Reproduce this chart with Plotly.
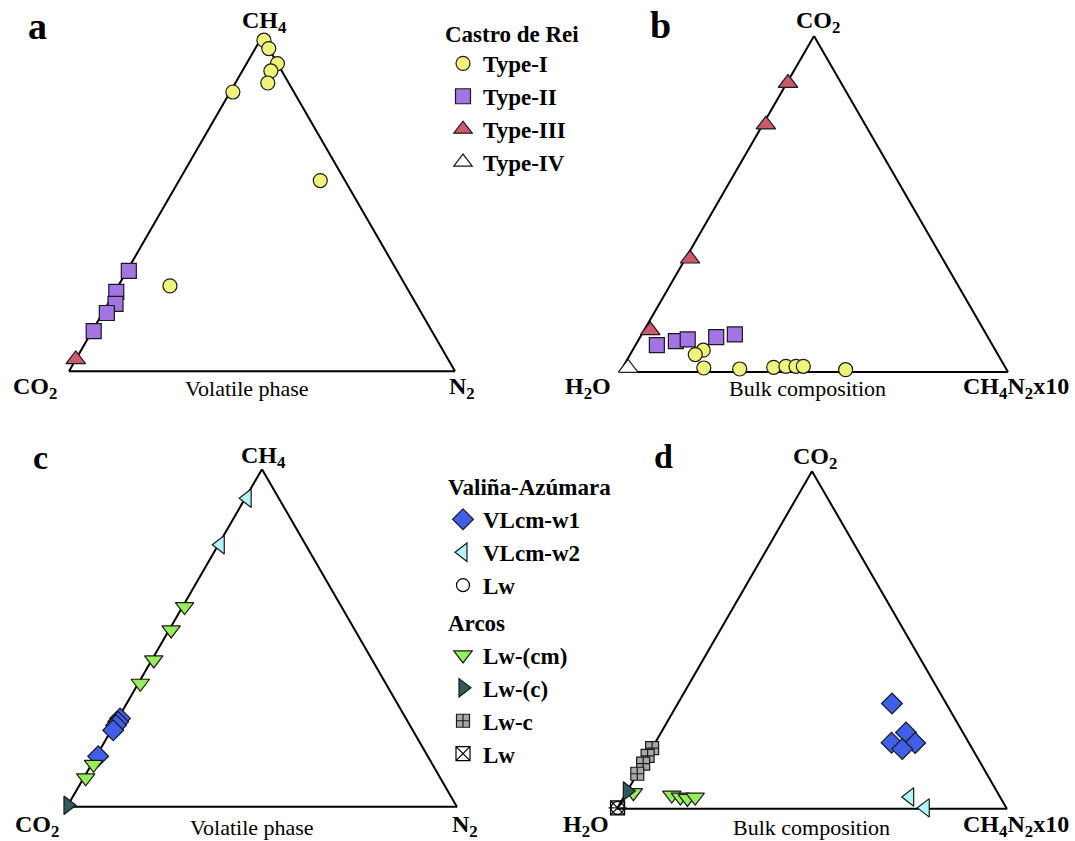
import math
import plotly.graph_objects as go

FONT = "Liberation Serif"
W, H = 1075, 841

# ---------------- Data (percent) ----------------
# Panel a: volatile phase, Castro de Rei  (a = CH4, b = CO2, c = N2)
A_T1_CH4 = [99.0, 96.5, 92.0, 89.8, 86.2, 83.5, 57.0, 25.5]
A_T1_CO2 = [0.0, 0.0, 0.0, 2.8, 5.4, 15.8, 6.4, 61.1]
A_T1_N2 = [1.0, 3.5, 8.0, 7.4, 8.4, 0.7, 36.6, 13.4]

A_T2_CH4 = [30.0, 23.7, 20.1, 17.4, 12.0]
A_T2_CO2 = [69.5, 75.9, 77.9, 81.5, 87.6]
A_T2_N2 = [0.5, 0.4, 2.0, 1.1, 0.4]

A_T3_CH4 = [3.5]
A_T3_CO2 = [96.5]
A_T3_N2 = [0.0]

# Panel b: bulk composition, Castro de Rei (a = CO2, b = H2O, c = CH4N2x10)
B_T1_CO2 = [6.5, 5.2, 1.2, 0.9, 1.4, 1.7, 1.7, 1.7, 0.7]
B_T1_H2O = [75.3, 78.0, 77.8, 68.7, 59.7, 56.4, 53.8, 51.9, 41.5]
B_T1_CHN = [18.2, 16.8, 21.0, 30.4, 38.9, 41.9, 44.5, 46.4, 57.8]

B_T2_CO2 = [8.0, 9.2, 9.7, 10.4, 11.2]
B_T2_H2O = [86.5, 81.0, 77.7, 70.0, 64.8]
B_T2_CHN = [5.5, 9.8, 12.6, 19.6, 24.0]

B_T3_CO2 = [86.0, 73.6, 33.7, 12.4]
B_T3_H2O = [13.7, 25.6, 65.1, 86.0]
B_T3_CHN = [0.3, 0.8, 1.2, 1.6]

B_T4_CO2 = [1.2]
B_T4_H2O = [97.3]
B_T4_CHN = [1.5]

# Panel c: volatile phase, Valiña-Azúmara & Arcos (a = CH4, b = CO2, c = N2)
C_W1_CH4 = [26.2, 25.2, 24.2, 22.7, 15.0]
C_W1_CO2 = [73.3, 74.3, 75.3, 76.8, 84.5]
C_W1_N2 = [0.5, 0.5, 0.5, 0.5, 0.5]

C_W2_CH4 = [91.4, 77.6]
C_W2_CO2 = [8.1, 21.9]
C_W2_N2 = [0.5, 0.5]

C_CM_CH4 = [59.3, 52.4, 43.5, 36.6, 12.6, 8.6]
C_CM_CO2 = [40.2, 47.1, 56.0, 62.9, 86.9, 90.9]
C_CM_N2 = [0.5, 0.5, 0.5, 0.5, 0.5, 0.5]

C_C_CH4 = [0.5]
C_C_CO2 = [99.5]
C_C_N2 = [0.0]

# Panel d: bulk composition, Valiña-Azúmara & Arcos (a = CO2, b = H2O, c = CH4N2x10)
D_W1_CO2 = [31.2, 22.6, 19.6, 19.5, 17.7]
D_W1_H2O = [13.9, 14.6, 19.8, 13.8, 18.0]
D_W1_CHN = [54.9, 62.8, 60.6, 66.7, 64.3]

D_W2_CO2 = [3.5, 0.3]
D_W2_H2O = [23.2, 20.8]
D_W2_CHN = [73.3, 78.9]

D_LWV_CO2 = [0.3]
D_LWV_H2O = [99.7]
D_LWV_CHN = [0.0]

D_CM_CO2 = [4.8, 4.1, 3.5, 3.1, 3.5]
D_CM_H2O = [93.4, 83.9, 82.0, 80.4, 78.2]
D_CM_CHN = [1.8, 12.0, 14.5, 16.5, 18.3]

D_C_CO2 = [5.3]
D_C_H2O = [94.7]
D_C_CHN = [0.0]

D_LWC_CO2 = [18.0, 15.7, 13.4, 10.4]
D_LWC_H2O = [82.0, 84.3, 86.6, 89.6]
D_LWC_CHN = [0.0, 0.0, 0.0, 0.0]

D_LWA_CO2 = [0.3]
D_LWA_H2O = [99.7]
D_LWA_CHN = [0.0]

# ---------------- Styles ----------------
YELLOW = "#f0f37a"
PURPLE = "#a274e4"
RED = "#cd5a6c"
BLUE = "#3f5fe8"
CYAN = "#b4f3f6"
GREEN = "#97ee5c"
TEAL = "#2e5c5c"
GRAY = "#a8a8a8"
EDGE = "#1a1a1a"

fig = go.Figure()


def add(sub, a, b, c, name, symbol, color, size, legend, group, show, gtitle=None, lw=1.2):
    kw = {}
    if gtitle is not None:
        kw["legendgrouptitle"] = dict(text=gtitle, font=dict(family=FONT, size=23, color="black", weight="bold"))
    fig.add_trace(go.Scatterternary(
        a=a, b=b, c=c, mode="markers", name=name, subplot=sub,
        legend=legend, legendgroup=group, showlegend=show, cliponaxis=False,
        marker=dict(symbol=symbol, color=color, size=size, line=dict(color=EDGE, width=lw)),
        **kw))


# Castro de Rei (legend 1)
add("ternary", A_T1_CH4, A_T1_CO2, A_T1_N2, "Type-I", "circle", YELLOW, 14, "legend", "t1", True)
add("ternary2", B_T1_CO2, B_T1_H2O, B_T1_CHN, "Type-I", "circle", YELLOW, 14, "legend", "t1", False)
add("ternary", A_T2_CH4, A_T2_CO2, A_T2_N2, "Type-II", "square", PURPLE, 15, "legend", "t2", True)
add("ternary2", B_T2_CO2, B_T2_H2O, B_T2_CHN, "Type-II", "square", PURPLE, 15, "legend", "t2", False)
add("ternary", A_T3_CH4, A_T3_CO2, A_T3_N2, "Type-III", "triangle-up", RED, 17, "legend", "t3", True)
add("ternary2", B_T3_CO2, B_T3_H2O, B_T3_CHN, "Type-III", "triangle-up", RED, 17, "legend", "t3", False)
add("ternary2", B_T4_CO2, B_T4_H2O, B_T4_CHN, "Type-IV", "triangle-up", "white", 17, "legend", "t4", True)

# Valiña-Azúmara (legend 2)
add("ternary3", C_W1_CH4, C_W1_CO2, C_W1_N2, "VLcm-w1", "diamond", BLUE, 16, "legend2", "valina", True, "Valiña-Azúmara")
add("ternary4", D_W1_CO2, D_W1_H2O, D_W1_CHN, "VLcm-w1", "diamond", BLUE, 16, "legend2", "valina", False)
add("ternary3", C_W2_CH4, C_W2_CO2, C_W2_N2, "VLcm-w2", "triangle-left", CYAN, 16, "legend2", "valina", True)
add("ternary4", D_W2_CO2, D_W2_H2O, D_W2_CHN, "VLcm-w2", "triangle-left", CYAN, 16, "legend2", "valina", False)
add("ternary4", D_LWV_CO2, D_LWV_H2O, D_LWV_CHN, "Lw", "circle-open", "black", 13, "legend2", "valina", True)
add("ternary4", D_LWV_CO2, D_LWV_H2O, D_LWV_CHN, "Lw", "line-ew", "black", 13, "legend2", "valina", False)

# Arcos
add("ternary3", C_CM_CH4, C_CM_CO2, C_CM_N2, "Lw-(cm)", "triangle-down", GREEN, 16, "legend2", "arcos", True, "Arcos")
add("ternary4", D_CM_CO2, D_CM_H2O, D_CM_CHN, "Lw-(cm)", "triangle-down", GREEN, 16, "legend2", "arcos", False)
add("ternary3", C_C_CH4, C_C_CO2, C_C_N2, "Lw-(c)", "triangle-right", TEAL, 16, "legend2", "arcos", True)
add("ternary4", D_C_CO2, D_C_H2O, D_C_CHN, "Lw-(c)", "triangle-right", TEAL, 16, "legend2", "arcos", False)
add("ternary4", D_LWC_CO2, D_LWC_H2O, D_LWC_CHN, "Lw-c", "square-cross", GRAY, 13, "legend2", "arcos", True)
add("ternary4", D_LWA_CO2, D_LWA_H2O, D_LWA_CHN, "Lw", "square-x-open", "black", 14, "legend2", "arcos", True)


def dom(cx, cy, w):
    h = w * math.sqrt(3) / 2
    return dict(x=[(cx - w / 2) / W, (cx + w / 2) / W],
                y=[1 - (cy + h / 2) / H, 1 - (cy - h / 2) / H])


def axis():
    return dict(showticklabels=False, showgrid=False, ticks="", linecolor="black",
                linewidth=2, layer="below traces", title=dict(text=""))


def tern(d):
    return dict(domain=d, sum=100, bgcolor="white",
                aaxis=axis(), baxis=axis(), caxis=axis())


fig.update_layout(
    width=W, height=H,
    margin=dict(l=0, r=0, t=0, b=0),
    paper_bgcolor="white", plot_bgcolor="white",
    ternary=tern(dom(262, 204, 386)),
    ternary2=tern(dom(814, 204, 388)),
    ternary3=tern(dom(262, 638, 390)),
    ternary4=tern(dom(812, 640, 390)),
    legend=dict(x=443 / W, y=1 - 12 / H, xanchor="left", yanchor="top",
                bgcolor="rgba(0,0,0,0)", tracegroupgap=0,
                title=dict(text="Castro de Rei", font=dict(family=FONT, size=23, color="black", weight="bold")),
                font=dict(family=FONT, size=23, color="black", weight="bold")),
    legend2=dict(x=443 / W, y=1 - 465 / H, xanchor="left", yanchor="top",
                 bgcolor="rgba(0,0,0,0)", tracegroupgap=4, traceorder="grouped",
                 font=dict(family=FONT, size=23, color="black", weight="bold")),
    showlegend=True,
)


def label(x, y, text, size=24, bold=True, anchor="center"):
    fig.add_annotation(x=x / W, y=1 - y / H, xref="paper", yref="paper", text=text,
                       showarrow=False, xanchor=anchor, yanchor="middle",
                       font=dict(family=FONT, size=size, color="black", weight="bold" if bold else "normal"))


# panel letters
label(37, 26, "a", 38)
label(660, 25, "b", 38)
label(40, 457, "c", 34)
label(664, 456, "d", 34)

# panel a
label(264, 22, "CH<sub>4</sub>")
label(35, 388, "CO<sub>2</sub>")
label(247, 388, "Volatile phase", 22, False)
label(462, 388, "N<sub>2</sub>")
# panel b
label(818, 22, "CO<sub>2</sub>")
label(588, 388, "H<sub>2</sub>O")
label(807, 388, "Bulk composition", 22, False)
label(1071, 388, "CH<sub>4</sub>N<sub>2</sub>x10", anchor="right")
# panel c
label(263, 457, "CH<sub>4</sub>")
label(37, 826, "CO<sub>2</sub>")
label(252, 827, "Volatile phase", 22, False)
label(465, 826, "N<sub>2</sub>")
# panel d
label(815, 458, "CO<sub>2</sub>")
label(586, 826, "H<sub>2</sub>O")
label(811, 827, "Bulk composition", 22, False)
label(1071, 826, "CH<sub>4</sub>N<sub>2</sub>x10", anchor="right")

fig.write_html("out.html", config={"displayModeBar": False},
               post_script="document.body.style.margin='0px';")
